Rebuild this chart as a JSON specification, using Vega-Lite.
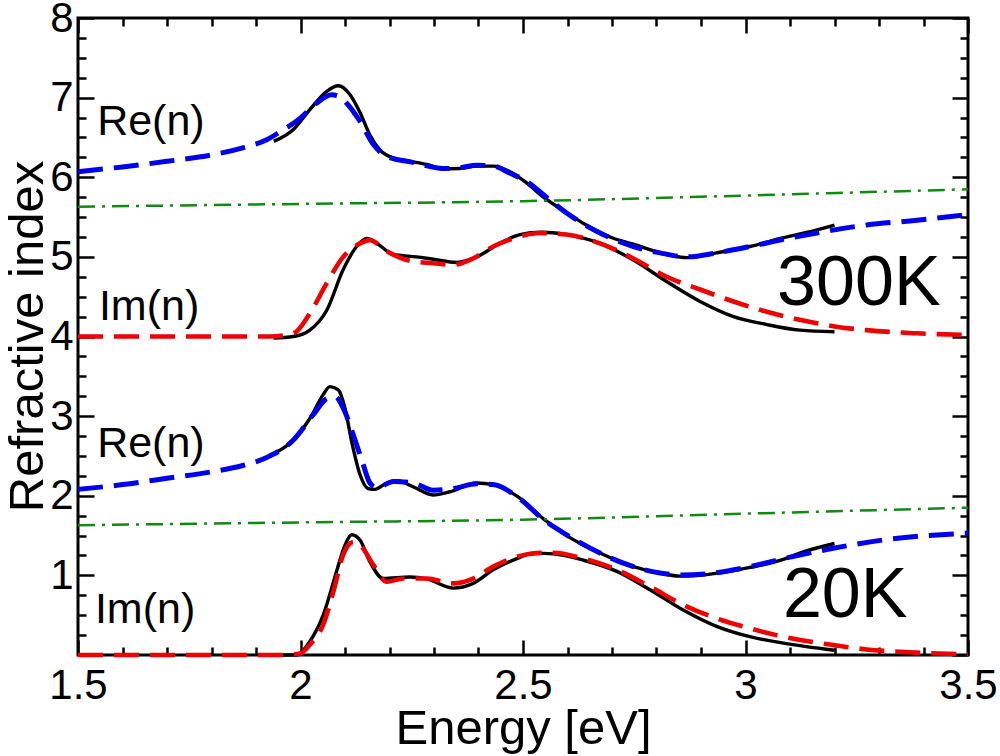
{
  "$schema": "https://vega.github.io/schema/vega-lite/v6.json",
  "width": 890,
  "height": 637,
  "autosize": {"type": "none"},
  "padding": {"left": 78, "top": 18, "right": 32, "bottom": 101},
  "config": {
    "view": {"stroke": "black", "strokeWidth": 3},
    "font": "Liberation Sans"
  },
  "datasets": {
    "measured": [
      {"s": "300K Re", "E": 1.94, "n": 6.45}, {"s": "300K Re", "E": 1.984, "n": 6.6}, {"s": "300K Re", "E": 2.021, "n": 6.85},
      {"s": "300K Re", "E": 2.059, "n": 7.08}, {"s": "300K Re", "E": 2.085, "n": 7.15}, {"s": "300K Re", "E": 2.111, "n": 7.04},
      {"s": "300K Re", "E": 2.134, "n": 6.81}, {"s": "300K Re", "E": 2.156, "n": 6.53}, {"s": "300K Re", "E": 2.179, "n": 6.34},
      {"s": "300K Re", "E": 2.209, "n": 6.24}, {"s": "300K Re", "E": 2.246, "n": 6.2}, {"s": "300K Re", "E": 2.284, "n": 6.16},
      {"s": "300K Re", "E": 2.321, "n": 6.105}, {"s": "300K Re", "E": 2.358, "n": 6.11}, {"s": "300K Re", "E": 2.396, "n": 6.14},
      {"s": "300K Re", "E": 2.433, "n": 6.14}, {"s": "300K Re", "E": 2.471, "n": 6.07}, {"s": "300K Re", "E": 2.508, "n": 5.93},
      {"s": "300K Re", "E": 2.546, "n": 5.75}, {"s": "300K Re", "E": 2.6, "n": 5.55}, {"s": "300K Re", "E": 2.636, "n": 5.42},
      {"s": "300K Re", "E": 2.7, "n": 5.24}, {"s": "300K Re", "E": 2.748, "n": 5.16}, {"s": "300K Re", "E": 2.823, "n": 5.03},
      {"s": "300K Re", "E": 2.868, "n": 4.99}, {"s": "300K Re", "E": 2.935, "n": 5.05}, {"s": "300K Re", "E": 3.01, "n": 5.13},
      {"s": "300K Re", "E": 3.085, "n": 5.24}, {"s": "300K Re", "E": 3.14, "n": 5.31}, {"s": "300K Re", "E": 3.2, "n": 5.4},

      {"s": "300K Im", "E": 1.939, "n": 3.98}, {"s": "300K Im", "E": 1.984, "n": 4.0}, {"s": "300K Im", "E": 2.021, "n": 4.08},
      {"s": "300K Im", "E": 2.059, "n": 4.33}, {"s": "300K Im", "E": 2.096, "n": 4.84}, {"s": "300K Im", "E": 2.126, "n": 5.13},
      {"s": "300K Im", "E": 2.149, "n": 5.23}, {"s": "300K Im", "E": 2.171, "n": 5.17}, {"s": "300K Im", "E": 2.209, "n": 5.03},
      {"s": "300K Im", "E": 2.261, "n": 5.0}, {"s": "300K Im", "E": 2.298, "n": 4.97}, {"s": "300K Im", "E": 2.351, "n": 4.93},
      {"s": "300K Im", "E": 2.396, "n": 5.0}, {"s": "300K Im", "E": 2.448, "n": 5.17}, {"s": "300K Im", "E": 2.493, "n": 5.28},
      {"s": "300K Im", "E": 2.54, "n": 5.31}, {"s": "300K Im", "E": 2.598, "n": 5.28}, {"s": "300K Im", "E": 2.673, "n": 5.17},
      {"s": "300K Im", "E": 2.748, "n": 4.96}, {"s": "300K Im", "E": 2.823, "n": 4.69}, {"s": "300K Im", "E": 2.898, "n": 4.44},
      {"s": "300K Im", "E": 2.973, "n": 4.25}, {"s": "300K Im", "E": 3.048, "n": 4.15}, {"s": "300K Im", "E": 3.122, "n": 4.08},
      {"s": "300K Im", "E": 3.2, "n": 4.06},

      {"s": "20K Re", "E": 1.94, "n": 2.53}, {"s": "20K Re", "E": 1.976, "n": 2.66}, {"s": "20K Re", "E": 2.021, "n": 2.97},
      {"s": "20K Re", "E": 2.051, "n": 3.27}, {"s": "20K Re", "E": 2.066, "n": 3.37}, {"s": "20K Re", "E": 2.085, "n": 3.33},
      {"s": "20K Re", "E": 2.1, "n": 3.1}, {"s": "20K Re", "E": 2.115, "n": 2.68}, {"s": "20K Re", "E": 2.134, "n": 2.26},
      {"s": "20K Re", "E": 2.152, "n": 2.09}, {"s": "20K Re", "E": 2.167, "n": 2.08}, {"s": "20K Re", "E": 2.194, "n": 2.16},
      {"s": "20K Re", "E": 2.216, "n": 2.19}, {"s": "20K Re", "E": 2.254, "n": 2.11}, {"s": "20K Re", "E": 2.298, "n": 2.01},
      {"s": "20K Re", "E": 2.336, "n": 2.05}, {"s": "20K Re", "E": 2.396, "n": 2.16}, {"s": "20K Re", "E": 2.433, "n": 2.14},
      {"s": "20K Re", "E": 2.493, "n": 1.97}, {"s": "20K Re", "E": 2.546, "n": 1.71}, {"s": "20K Re", "E": 2.598, "n": 1.5},
      {"s": "20K Re", "E": 2.673, "n": 1.28}, {"s": "20K Re", "E": 2.748, "n": 1.11}, {"s": "20K Re", "E": 2.808, "n": 1.03},
      {"s": "20K Re", "E": 2.853, "n": 0.99}, {"s": "20K Re", "E": 2.913, "n": 1.01}, {"s": "20K Re", "E": 3.01, "n": 1.1},
      {"s": "20K Re", "E": 3.085, "n": 1.2}, {"s": "20K Re", "E": 3.122, "n": 1.28}, {"s": "20K Re", "E": 3.2, "n": 1.4},

      {"s": "20K Im", "E": 1.94, "n": 0.0}, {"s": "20K Im", "E": 1.991, "n": 0.0}, {"s": "20K Im", "E": 2.021, "n": 0.17},
      {"s": "20K Im", "E": 2.051, "n": 0.5}, {"s": "20K Im", "E": 2.081, "n": 1.05}, {"s": "20K Im", "E": 2.1, "n": 1.38},
      {"s": "20K Im", "E": 2.115, "n": 1.51}, {"s": "20K Im", "E": 2.134, "n": 1.44}, {"s": "20K Im", "E": 2.156, "n": 1.17},
      {"s": "20K Im", "E": 2.186, "n": 0.96}, {"s": "20K Im", "E": 2.246, "n": 0.98}, {"s": "20K Im", "E": 2.284, "n": 0.955},
      {"s": "20K Im", "E": 2.343, "n": 0.84}, {"s": "20K Im", "E": 2.388, "n": 0.9}, {"s": "20K Im", "E": 2.433, "n": 1.07},
      {"s": "20K Im", "E": 2.486, "n": 1.21}, {"s": "20K Im", "E": 2.523, "n": 1.28}, {"s": "20K Im", "E": 2.568, "n": 1.27},
      {"s": "20K Im", "E": 2.636, "n": 1.19}, {"s": "20K Im", "E": 2.711, "n": 1.05}, {"s": "20K Im", "E": 2.785, "n": 0.82},
      {"s": "20K Im", "E": 2.86, "n": 0.565}, {"s": "20K Im", "E": 2.935, "n": 0.36}, {"s": "20K Im", "E": 3.01, "n": 0.23},
      {"s": "20K Im", "E": 3.085, "n": 0.15}, {"s": "20K Im", "E": 3.2, "n": 0.06}
    ],
    "fitRe": [
      {"s": "300K", "E": 1.5, "n": 6.07}, {"s": "300K", "E": 1.6, "n": 6.13}, {"s": "300K", "E": 1.7, "n": 6.2},
      {"s": "300K", "E": 1.8, "n": 6.28}, {"s": "300K", "E": 1.87, "n": 6.37}, {"s": "300K", "E": 1.924, "n": 6.47},
      {"s": "300K", "E": 1.954, "n": 6.57}, {"s": "300K", "E": 1.999, "n": 6.74}, {"s": "300K", "E": 2.036, "n": 6.93},
      {"s": "300K", "E": 2.07, "n": 7.035}, {"s": "300K", "E": 2.089, "n": 7.01}, {"s": "300K", "E": 2.107, "n": 6.91},
      {"s": "300K", "E": 2.134, "n": 6.7}, {"s": "300K", "E": 2.164, "n": 6.41}, {"s": "300K", "E": 2.194, "n": 6.26},
      {"s": "300K", "E": 2.25, "n": 6.19}, {"s": "300K", "E": 2.321, "n": 6.11}, {"s": "300K", "E": 2.358, "n": 6.12},
      {"s": "300K", "E": 2.396, "n": 6.15}, {"s": "300K", "E": 2.433, "n": 6.14}, {"s": "300K", "E": 2.471, "n": 6.05},
      {"s": "300K", "E": 2.508, "n": 5.95}, {"s": "300K", "E": 2.546, "n": 5.78}, {"s": "300K", "E": 2.598, "n": 5.55},
      {"s": "300K", "E": 2.673, "n": 5.3}, {"s": "300K", "E": 2.748, "n": 5.13}, {"s": "300K", "E": 2.808, "n": 5.05},
      {"s": "300K", "E": 2.868, "n": 5.0}, {"s": "300K", "E": 2.935, "n": 5.05}, {"s": "300K", "E": 3.01, "n": 5.13},
      {"s": "300K", "E": 3.085, "n": 5.22}, {"s": "300K", "E": 3.16, "n": 5.3}, {"s": "300K", "E": 3.272, "n": 5.4},
      {"s": "300K", "E": 3.385, "n": 5.46}, {"s": "300K", "E": 3.5, "n": 5.53},

      {"s": "20K", "E": 1.5, "n": 2.08}, {"s": "20K", "E": 1.6, "n": 2.14}, {"s": "20K", "E": 1.7, "n": 2.22},
      {"s": "20K", "E": 1.8, "n": 2.3}, {"s": "20K", "E": 1.87, "n": 2.38}, {"s": "20K", "E": 1.924, "n": 2.48},
      {"s": "20K", "E": 1.984, "n": 2.7}, {"s": "20K", "E": 2.029, "n": 3.02}, {"s": "20K", "E": 2.059, "n": 3.22},
      {"s": "20K", "E": 2.078, "n": 3.245}, {"s": "20K", "E": 2.096, "n": 3.1}, {"s": "20K", "E": 2.119, "n": 2.76},
      {"s": "20K", "E": 2.141, "n": 2.39}, {"s": "20K", "E": 2.156, "n": 2.16}, {"s": "20K", "E": 2.171, "n": 2.1},
      {"s": "20K", "E": 2.209, "n": 2.18}, {"s": "20K", "E": 2.254, "n": 2.16}, {"s": "20K", "E": 2.298, "n": 2.07},
      {"s": "20K", "E": 2.343, "n": 2.09}, {"s": "20K", "E": 2.396, "n": 2.15}, {"s": "20K", "E": 2.433, "n": 2.14},
      {"s": "20K", "E": 2.493, "n": 1.96}, {"s": "20K", "E": 2.546, "n": 1.7}, {"s": "20K", "E": 2.598, "n": 1.51},
      {"s": "20K", "E": 2.673, "n": 1.28}, {"s": "20K", "E": 2.748, "n": 1.11}, {"s": "20K", "E": 2.808, "n": 1.03},
      {"s": "20K", "E": 2.853, "n": 1.005}, {"s": "20K", "E": 2.913, "n": 1.02}, {"s": "20K", "E": 3.01, "n": 1.11},
      {"s": "20K", "E": 3.085, "n": 1.21}, {"s": "20K", "E": 3.197, "n": 1.34}, {"s": "20K", "E": 3.31, "n": 1.445},
      {"s": "20K", "E": 3.5, "n": 1.53}
    ],
    "fitIm": [
      {"s": "300K", "E": 1.5, "n": 4.0}, {"s": "300K", "E": 1.931, "n": 4.0}, {"s": "300K", "E": 1.984, "n": 4.04},
      {"s": "300K", "E": 2.021, "n": 4.29}, {"s": "300K", "E": 2.059, "n": 4.67}, {"s": "300K", "E": 2.096, "n": 5.0},
      {"s": "300K", "E": 2.134, "n": 5.17}, {"s": "300K", "E": 2.156, "n": 5.21}, {"s": "300K", "E": 2.194, "n": 5.07},
      {"s": "300K", "E": 2.246, "n": 4.95}, {"s": "300K", "E": 2.298, "n": 4.92}, {"s": "300K", "E": 2.343, "n": 4.9},
      {"s": "300K", "E": 2.388, "n": 4.98}, {"s": "300K", "E": 2.433, "n": 5.13}, {"s": "300K", "E": 2.478, "n": 5.23},
      {"s": "300K", "E": 2.538, "n": 5.3}, {"s": "300K", "E": 2.598, "n": 5.28}, {"s": "300K", "E": 2.673, "n": 5.17},
      {"s": "300K", "E": 2.748, "n": 4.98}, {"s": "300K", "E": 2.823, "n": 4.75}, {"s": "300K", "E": 2.898, "n": 4.59},
      {"s": "300K", "E": 2.973, "n": 4.44}, {"s": "300K", "E": 3.048, "n": 4.31}, {"s": "300K", "E": 3.122, "n": 4.21},
      {"s": "300K", "E": 3.197, "n": 4.13}, {"s": "300K", "E": 3.272, "n": 4.08}, {"s": "300K", "E": 3.385, "n": 4.04},
      {"s": "300K", "E": 3.5, "n": 4.02},

      {"s": "20K", "E": 1.5, "n": 0.0}, {"s": "20K", "E": 1.95, "n": 0.0}, {"s": "20K", "E": 1.999, "n": 0.02},
      {"s": "20K", "E": 2.021, "n": 0.13}, {"s": "20K", "E": 2.051, "n": 0.38}, {"s": "20K", "E": 2.074, "n": 0.8},
      {"s": "20K", "E": 2.096, "n": 1.26}, {"s": "20K", "E": 2.119, "n": 1.42}, {"s": "20K", "E": 2.134, "n": 1.38},
      {"s": "20K", "E": 2.164, "n": 1.13}, {"s": "20K", "E": 2.194, "n": 0.92}, {"s": "20K", "E": 2.231, "n": 0.96},
      {"s": "20K", "E": 2.284, "n": 0.96}, {"s": "20K", "E": 2.343, "n": 0.9}, {"s": "20K", "E": 2.388, "n": 0.96},
      {"s": "20K", "E": 2.433, "n": 1.11}, {"s": "20K", "E": 2.486, "n": 1.235}, {"s": "20K", "E": 2.531, "n": 1.28},
      {"s": "20K", "E": 2.568, "n": 1.285}, {"s": "20K", "E": 2.636, "n": 1.21}, {"s": "20K", "E": 2.711, "n": 1.07},
      {"s": "20K", "E": 2.785, "n": 0.86}, {"s": "20K", "E": 2.86, "n": 0.63}, {"s": "20K", "E": 2.935, "n": 0.46},
      {"s": "20K", "E": 3.01, "n": 0.335}, {"s": "20K", "E": 3.085, "n": 0.23}, {"s": "20K", "E": 3.197, "n": 0.125},
      {"s": "20K", "E": 3.272, "n": 0.07}, {"s": "20K", "E": 3.385, "n": 0.03}, {"s": "20K", "E": 3.5, "n": 0.01}
    ],
    "background": [
      {"s": "300K", "E": 1.5, "n": 5.63}, {"s": "300K", "E": 2.0, "n": 5.665}, {"s": "300K", "E": 2.5, "n": 5.7},
      {"s": "300K", "E": 3.0, "n": 5.77}, {"s": "300K", "E": 3.5, "n": 5.85},
      {"s": "20K", "E": 1.5, "n": 1.63}, {"s": "20K", "E": 2.0, "n": 1.665}, {"s": "20K", "E": 2.5, "n": 1.7},
      {"s": "20K", "E": 3.0, "n": 1.775}, {"s": "20K", "E": 3.5, "n": 1.85}
    ],
    "partLabels": [
      {"text": "Re(n)", "E": 1.543, "n": 6.53},
      {"text": "Im(n)", "E": 1.547, "n": 4.21},
      {"text": "Re(n)", "E": 1.543, "n": 2.49},
      {"text": "Im(n)", "E": 1.538, "n": 0.4}
    ],
    "tempLabels": [
      {"text": "300K", "E": 3.071, "n": 4.4},
      {"text": "20K", "E": 3.084, "n": 0.48}
    ]
  },
  "resolve": {"axis": {"x": "independent", "y": "independent"}},
  "layer": [
    {
      "data": {"name": "measured"},
      "mark": {"type": "line", "color": "black", "strokeWidth": 3.4, "interpolate": "monotone"},
      "encoding": {
        "x": {
          "field": "E", "type": "quantitative",
          "scale": {"domain": [1.5, 3.5], "nice": false, "zero": false},
          "axis": {
            "orient": "bottom",
            "title": "Energy [eV]",
            "values": [1.5, 1.6, 1.7, 1.8, 1.9, 2, 2.1, 2.2, 2.3, 2.4, 2.5, 2.6, 2.7, 2.8, 2.9, 3, 3.1, 3.2, 3.3, 3.4, 3.5],
            "format": "~g",
            "labelExpr": "abs(datum.value * 2 - round(datum.value * 2)) < 0.001 ? datum.label : ''",
            "labelFlush": false,
            "labelOverlap": false,
            "labelFont": "Liberation Sans",
            "labelFontSize": 42,
            "labelColor": "black",
            "labelPadding": 25,
            "domain": false,
            "grid": false,
            "tickColor": "black",
            "tickWidth": 2.5,
            "tickSize": {"expr": "abs(datum.value * 2 - round(datum.value * 2)) < 0.001 ? -15 : -8"},
            "titleFont": "Liberation Sans",
            "titleFontSize": 49,
            "titleFontWeight": "normal",
            "titleColor": "black",
            "titleBaseline": "alphabetic",
            "titleX": 445,
            "titleY": 88
          }
        },
        "y": {
          "field": "n", "type": "quantitative",
          "scale": {"domain": [0, 8], "nice": false, "zero": false},
          "axis": {
            "orient": "left",
            "title": "Refractive index",
            "values": [0, 0.25, 0.5, 0.75, 1, 1.25, 1.5, 1.75, 2, 2.25, 2.5, 2.75, 3, 3.25, 3.5, 3.75, 4, 4.25, 4.5, 4.75, 5, 5.25, 5.5, 5.75, 6, 6.25, 6.5, 6.75, 7, 7.25, 7.5, 7.75, 8],
            "format": "~g",
            "labelExpr": "datum.value > 0.5 && datum.value % 1 == 0 ? datum.label : ''",
            "labelFlush": false,
            "labelOverlap": false,
            "labelFont": "Liberation Sans",
            "labelFontSize": 42,
            "labelColor": "black",
            "labelPadding": 21,
            "domain": false,
            "grid": false,
            "tickColor": "black",
            "tickWidth": 2.5,
            "tickSize": {"expr": "datum.value % 1 == 0 ? -16 : -8"},
            "titleFont": "Liberation Sans",
            "titleFontSize": 49,
            "titleFontWeight": "normal",
            "titleColor": "black",
            "titleBaseline": "alphabetic",
            "titleAngle": -90,
            "titleX": -36,
            "titleY": 318
          }
        },
        "detail": {"field": "s", "type": "nominal"}
      }
    },
    {
      "data": {"name": "fitRe"},
      "mark": {"type": "line", "color": "#0000f0", "strokeWidth": 5, "strokeDash": [25, 11], "interpolate": "monotone"},
      "encoding": {
        "x": {"field": "E", "type": "quantitative", "axis": null},
        "y": {"field": "n", "type": "quantitative", "axis": null},
        "detail": {"field": "s", "type": "nominal"}
      }
    },
    {
      "data": {"name": "fitIm"},
      "mark": {"type": "line", "color": "#f00000", "strokeWidth": 4.6, "strokeDash": [25, 11], "interpolate": "monotone"},
      "encoding": {
        "x": {"field": "E", "type": "quantitative", "axis": null},
        "y": {"field": "n", "type": "quantitative", "axis": null},
        "detail": {"field": "s", "type": "nominal"}
      }
    },
    {
      "data": {"name": "background"},
      "mark": {"type": "line", "color": "#108a10", "strokeWidth": 2.5, "strokeDash": [17, 7, 3, 7], "interpolate": "monotone"},
      "encoding": {
        "x": {
          "field": "E", "type": "quantitative",
          "axis": {
            "orient": "top",
            "title": null,
            "labels": false,
            "values": [1.5, 1.6, 1.7, 1.8, 1.9, 2, 2.1, 2.2, 2.3, 2.4, 2.5, 2.6, 2.7, 2.8, 2.9, 3, 3.1, 3.2, 3.3, 3.4, 3.5],
            "domain": false,
            "grid": false,
            "tickColor": "black",
            "tickWidth": 2.5,
            "tickSize": {"expr": "abs(datum.value * 2 - round(datum.value * 2)) < 0.001 ? -15 : -8"}
          }
        },
        "y": {
          "field": "n", "type": "quantitative",
          "axis": {
            "orient": "right",
            "title": null,
            "labels": false,
            "values": [0, 0.25, 0.5, 0.75, 1, 1.25, 1.5, 1.75, 2, 2.25, 2.5, 2.75, 3, 3.25, 3.5, 3.75, 4, 4.25, 4.5, 4.75, 5, 5.25, 5.5, 5.75, 6, 6.25, 6.5, 6.75, 7, 7.25, 7.5, 7.75, 8],
            "domain": false,
            "grid": false,
            "tickColor": "black",
            "tickWidth": 2.5,
            "tickSize": {"expr": "datum.value % 1 == 0 ? -16 : -8"}
          }
        },
        "detail": {"field": "s", "type": "nominal"}
      }
    },
    {
      "data": {"name": "partLabels"},
      "mark": {"type": "text", "align": "left", "baseline": "alphabetic", "fontSize": 43, "font": "Liberation Sans", "color": "black"},
      "encoding": {
        "x": {"field": "E", "type": "quantitative", "axis": null},
        "y": {"field": "n", "type": "quantitative", "axis": null},
        "text": {"field": "text"}
      }
    },
    {
      "data": {"name": "tempLabels"},
      "mark": {"type": "text", "align": "left", "baseline": "alphabetic", "fontSize": 70, "font": "Liberation Sans", "color": "black"},
      "encoding": {
        "x": {"field": "E", "type": "quantitative", "axis": null},
        "y": {"field": "n", "type": "quantitative", "axis": null},
        "text": {"field": "text"}
      }
    }
  ]
}
